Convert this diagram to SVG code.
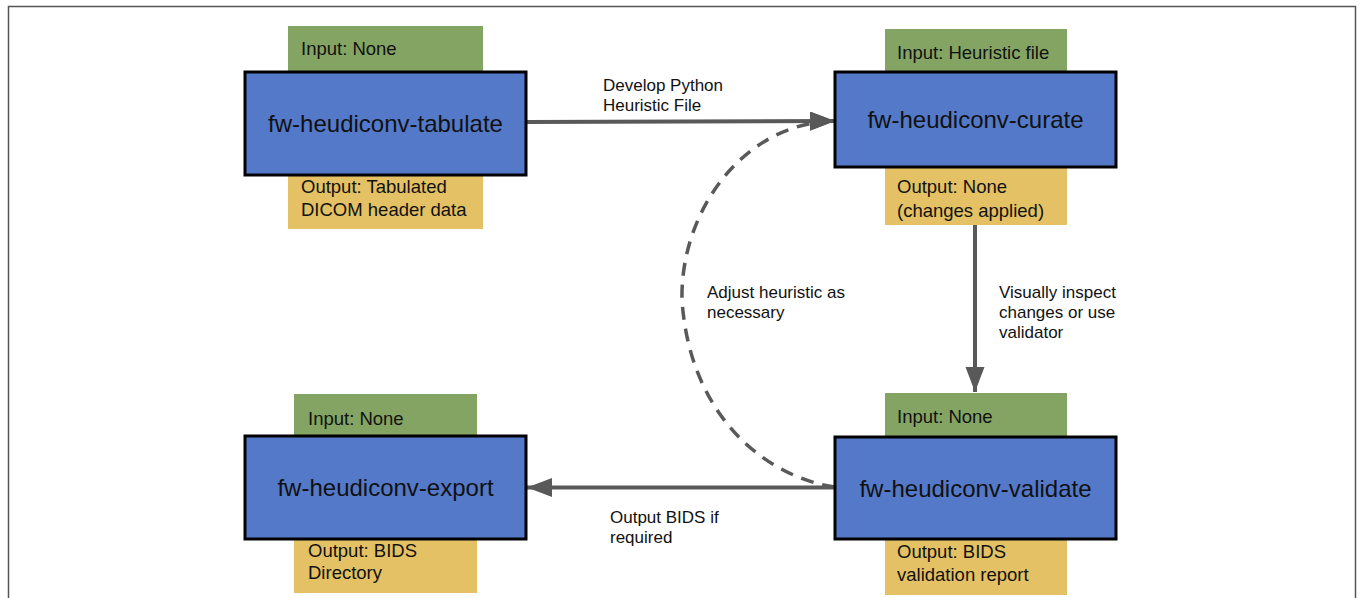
<svg xmlns="http://www.w3.org/2000/svg" width="1360" height="598" viewBox="0 0 1360 598">
<style>
  .frame{fill:#fff;stroke:#555;stroke-width:1.5}
  .in{fill:#84A463}
  .out{fill:#E3C164}
  .main{fill:#5479C9;stroke:#000;stroke-width:3}
  .t{font-family:"Liberation Sans",Arial,sans-serif;fill:#111}
  .small{font-size:18.5px}
  .title{font-size:24px;text-anchor:middle}
  .lbl{font-size:17px}
  .edge{fill:none;stroke:#595959;stroke-width:4}
  .dash{fill:none;stroke:#595959;stroke-width:3.5;stroke-dasharray:13 9}
</style>
<defs>
  <marker id="arrow" markerUnits="userSpaceOnUse" markerWidth="26" markerHeight="20" refX="25" refY="9.5" orient="auto">
    <path d="M0,0 L25,9.5 L0,19 z" fill="#595959"/>
  </marker>
</defs>
<rect class="frame" x="8.5" y="6.5" width="1347" height="620"/>

<g id="connectors">
  <line class="edge" x1="526" y1="122" x2="835" y2="121" marker-end="url(#arrow)"/>
  <line class="edge" x1="975" y1="225" x2="975" y2="392" marker-end="url(#arrow)"/>
  <line class="edge" x1="835" y1="487.5" x2="527" y2="487.5" marker-end="url(#arrow)"/>
  <path class="dash" d="M835,487 C770,478 690,420 682,300 C680,210 745,122 835,121" marker-end="url(#arrow)"/>
  <g class="t lbl">
    <text x="603" y="91">Develop Python</text>
    <text x="603" y="111">Heuristic File</text>
    <text x="707" y="298">Adjust heuristic as</text>
    <text x="707" y="318">necessary</text>
    <text x="999" y="298">Visually inspect</text>
    <text x="999" y="318">changes or use</text>
    <text x="999" y="338">validator</text>
    <text x="610" y="523">Output BIDS if</text>
    <text x="610" y="543">required</text>
  </g>
</g>

<g id="tabulate">
  <rect class="in" x="288" y="26" width="195" height="46"/>
  <rect class="out" x="288" y="175" width="195" height="54"/>
  <rect class="main" x="245" y="72" width="281" height="103"/>
  <text class="t small" x="301" y="55">Input: None</text>
  <text class="t title" x="385.5" y="131.5">fw-heudiconv-tabulate</text>
  <text class="t small" x="301" y="192.5">Output: Tabulated</text>
  <text class="t small" x="301" y="216">DICOM header data</text>
</g>

<g id="curate">
  <rect class="in" x="885" y="29" width="182" height="43"/>
  <rect class="out" x="885" y="167" width="182" height="58"/>
  <rect class="main" x="835" y="72" width="281" height="95"/>
  <text class="t small" x="897" y="59">Input: Heuristic file</text>
  <text class="t title" x="975.5" y="128">fw-heudiconv-curate</text>
  <text class="t small" x="897" y="193">Output: None</text>
  <text class="t small" x="897" y="217">(changes applied)</text>
</g>

<g id="validate">
  <rect class="in" x="885" y="393" width="182" height="44"/>
  <rect class="out" x="885" y="539" width="182" height="56"/>
  <rect class="main" x="835" y="437" width="281" height="102"/>
  <text class="t small" x="897" y="423">Input: None</text>
  <text class="t title" x="975.5" y="497">fw-heudiconv-validate</text>
  <text class="t small" x="897" y="558">Output: BIDS</text>
  <text class="t small" x="897" y="581">validation report</text>
</g>

<g id="export">
  <rect class="in" x="294" y="394" width="183" height="42"/>
  <rect class="out" x="294" y="539" width="183" height="54"/>
  <rect class="main" x="245" y="436" width="281" height="103"/>
  <text class="t small" x="308" y="425">Input: None</text>
  <text class="t title" x="385.5" y="496">fw-heudiconv-export</text>
  <text class="t small" x="308" y="557">Output: BIDS</text>
  <text class="t small" x="308" y="579">Directory</text>
</g>
</svg>
